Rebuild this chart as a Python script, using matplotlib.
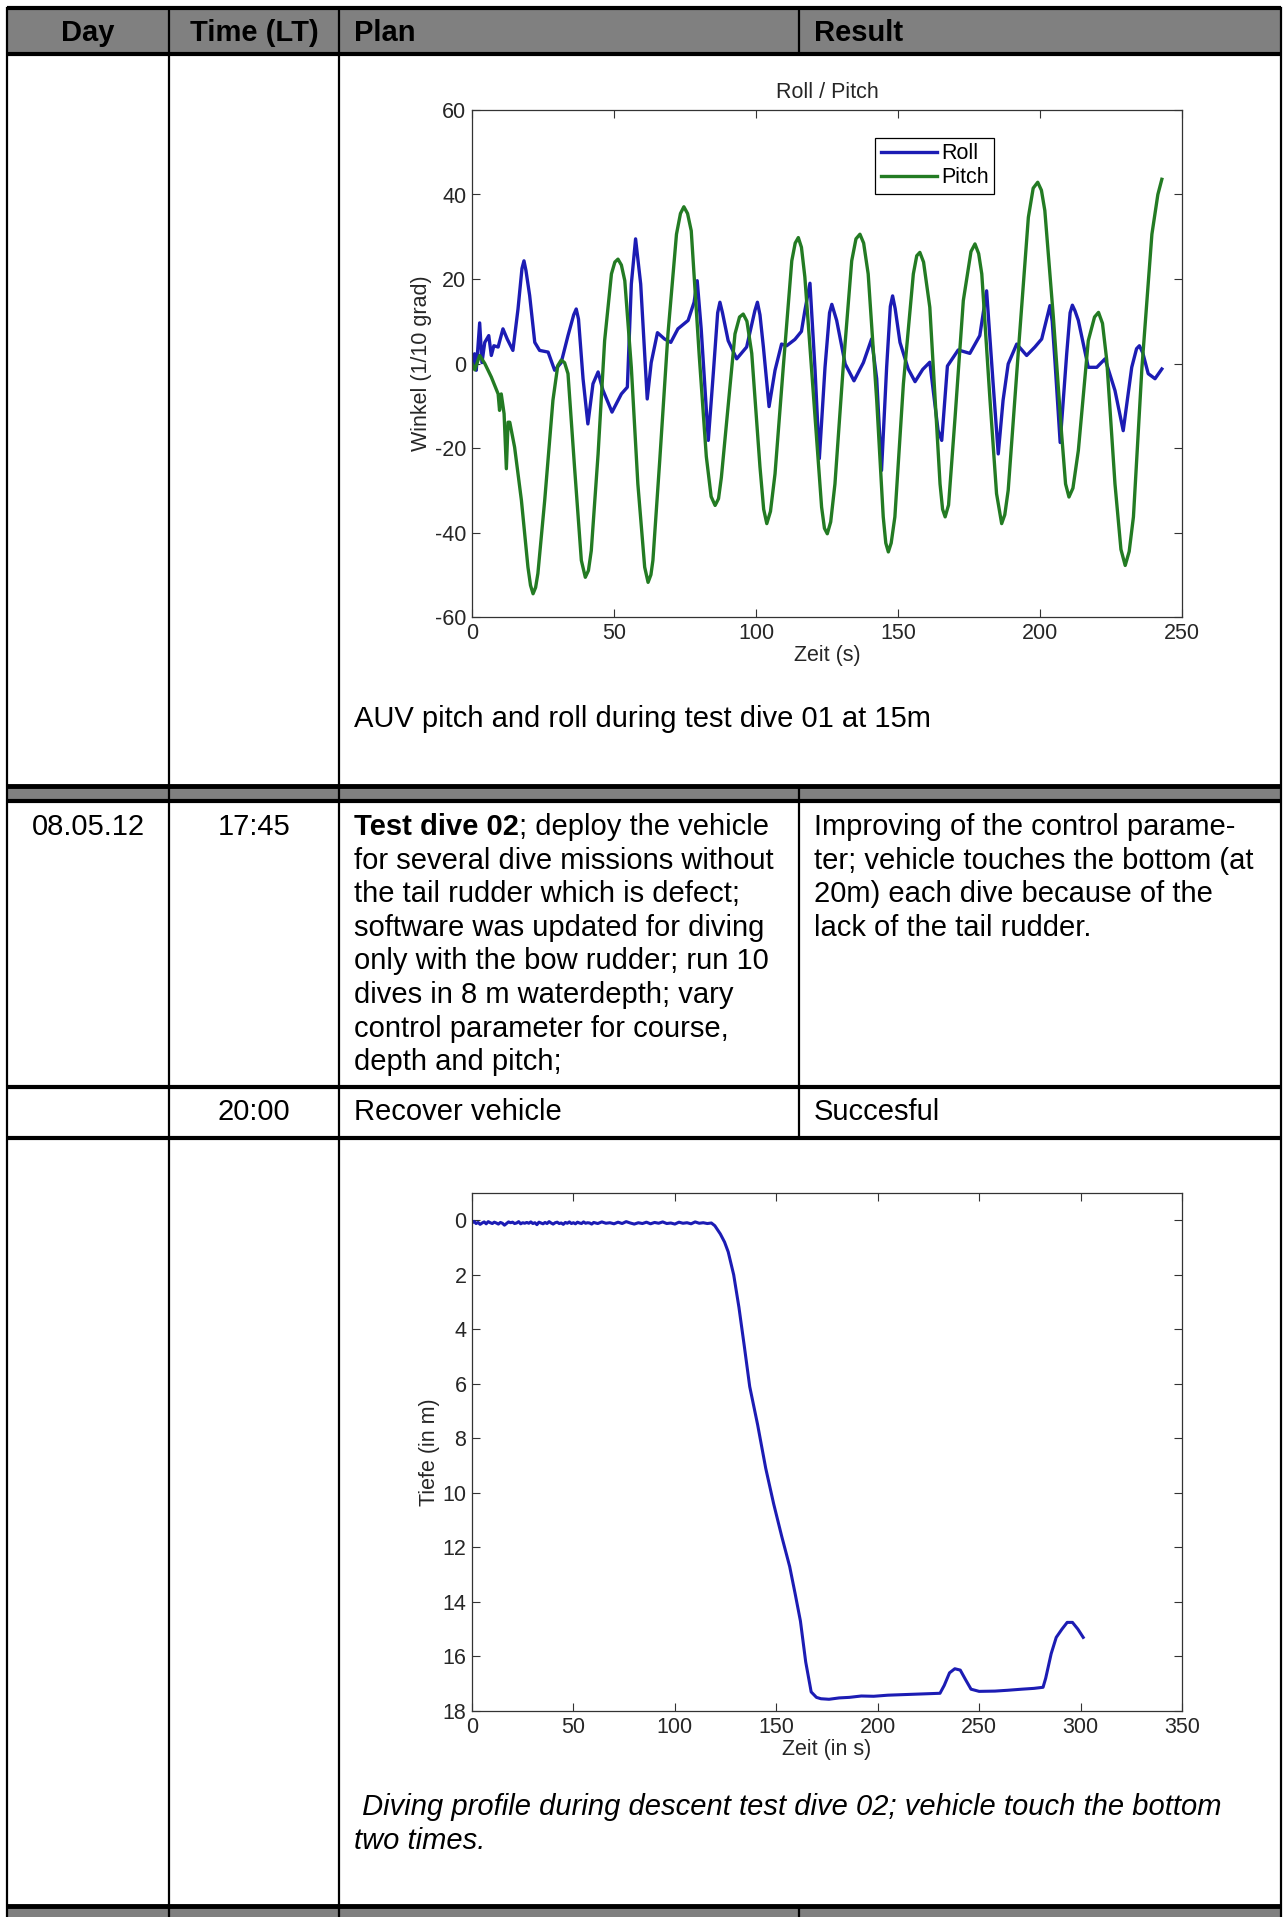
import matplotlib.pyplot as plt
from matplotlib.patches import Rectangle

plt.rcParams["font.family"] = ["Liberation Sans", "DejaVu Sans"]
plt.rcParams["axes.unicode_minus"] = False

W, H = 1284, 1917

# ---- table content ----
header = ["Day", "Time (LT)", "Plan", "Result"]
caption_1 = "AUV pitch and roll during test dive 01 at 15m"
row2_day = "08.05.12"
row2_time = "17:45"
row2_plan_bold = "Test dive 02"
row2_plan = [
    "; deploy the vehicle",
    "for several dive missions without",
    "the tail rudder which is defect;",
    "software was updated for diving",
    "only with the bow rudder; run 10",
    "dives in 8 m waterdepth; vary",
    "control parameter for course,",
    "depth and pitch;",
]
row2_result = [
    "Improving of the control parame-",
    "ter; vehicle touches the bottom (at",
    "20m) each dive because of the",
    "lack of the tail rudder.",
]
row3_time = "20:00"
row3_plan = "Recover vehicle"
row3_result = "Succesful"
caption_2 = [" Diving profile during descent test dive 02; vehicle touch the bottom",
             "two times."]

# ---- roll / pitch (1/10 grad), (time s, value) ----
roll_pts = [
    (0, -0.9), (0.9, 2.3), (1.5, -1.6), (2.7, 9.6), (3.5, 0.2), (4.5, 5.0), (5.9, 6.6),
    (6.8, 1.9), (7.7, 4.2), (9.2, 3.9), (10.9, 8.2), (12.4, 5.8), (14.4, 3.1),
    (16.2, 12.9), (17.6, 22.5), (18.3, 24.3), (19.0, 22.0), (20.3, 16.1), (22.1, 5.0),
    (23.8, 3.1), (26.8, 2.7), (29.1, -1.6), (31.4, 0.2), (33.8, 6.6), (35.8, 11.5),
    (36.7, 12.9), (37.5, 10.5), (39.1, -3.6), (40.8, -14.3), (42.6, -4.8), (44.4, -2.0),
    (46.1, -6.3), (49.3, -11.5), (52.6, -7.2), (54.7, -5.6), (56.1, 18.8), (57.6, 29.5),
    (59.4, 18.8), (61.7, -8.4), (63.1, 0.2), (65.3, 7.3), (67.8, 5.8), (70.0, 5.0),
    (72.5, 8.2), (76.1, 10.2), (78.2, 14.5), (79.3, 19.6), (80.7, 8.2), (83.2, -18.2),
    (85.0, -2.0), (86.5, 12.0), (87.3, 14.5), (88.2, 12.0), (90.2, 5.4), (93.2, 1.1),
    (96.7, 3.9), (99.6, 12.5), (100.5, 14.5), (101.4, 11.5), (102.6, 3.9), (104.6, -10.2),
    (106.7, -1.6), (109.0, 4.6), (110.8, 4.2), (113.7, 5.7), (116.0, 7.6), (117.2, 12.5),
    (119.0, 19.0), (120.8, -1.6), (122.3, -22.5), (124.3, -0.9), (125.9, 12.0),
    (126.7, 14.0), (128.4, 10.2), (131.4, -0.1), (134.5, -4.1), (137.8, 0.2),
    (140.7, 5.8), (142.5, -3.6), (144.2, -25.3), (146.0, -0.9), (147.3, 13.5),
    (148.1, 16.0), (149.0, 13.0), (150.7, 5.0), (153.6, -1.3), (156.0, -4.3),
    (158.7, -1.4), (161.2, 0.3), (164.1, -15.8), (165.4, -18.2), (167.4, -0.6),
    (171.2, 3.2), (175.3, 2.4), (178.8, 6.6), (181.2, 17.2), (183.5, -4.8),
    (185.3, -21.4), (187.0, -8.7), (188.8, -0.1), (191.8, 4.6), (195.3, 1.9),
    (198.2, 3.9), (200.6, 5.8), (202.7, 11.5), (203.5, 13.7), (204.3, 10.0),
    (205.3, 0.2), (207.1, -18.7), (209.4, 2.3), (210.6, 12.0), (211.4, 13.8),
    (212.3, 12.5), (213.5, 10.2), (217.0, -0.9), (220.0, -0.9), (222.9, 1.1),
    (226.4, -6.4), (229.3, -15.9), (232.3, -0.9), (234.0, 3.5), (235.0, 4.2),
    (236.2, 2.5), (238.1, -2.4), (240.5, -3.6), (242.9, -1.3),
]

pitch_pts = [
    (0, 0), (1.0, -1.5), (2.7, 1.9), (4.5, 0), (6.8, -3.2), (9.2, -7.2), (9.7, -11.1),
    (10.3, -7.2), (11.3, -11.9), (12.1, -24.9), (12.7, -13.9), (13.3, -13.9),
    (15.0, -19.8), (17.4, -32.4), (19.7, -48.2), (20.6, -52.5), (21.5, -54.5),
    (22.4, -53.0), (23.2, -49.7), (25.6, -32.4), (28.5, -8.7), (30.2, -0.5), (31.4, 0.8),
    (32.6, 0.2), (33.8, -2.4), (36.1, -24.5), (38.5, -46.6), (39.9, -50.6), (41.0, -49.0),
    (42.0, -44.3), (44.4, -21.4), (46.7, 5.4), (49.1, 21.2), (50.3, 24.0), (51.4, 24.7),
    (52.6, 23.3), (53.8, 19.6), (56.1, -0.9), (58.4, -28.5), (60.8, -48.2), (62.0, -51.8),
    (63.0, -50.0), (63.7, -46.6), (66.1, -23.0), (69.0, 7.0), (72.0, 30.6), (73.4, 35.5),
    (74.6, 37.1), (75.9, 35.5), (77.2, 31.4), (80.0, 2.0), (82.5, -22.0), (84.2, -31.5),
    (85.6, -33.6), (86.8, -32.0), (87.8, -27.0), (89.7, -13.5), (92.6, 7.0), (94.2, 11.0),
    (95.5, 11.7), (96.8, 10.0), (98.5, 2.4), (101.4, -24.5), (102.7, -34.5),
    (103.8, -37.9), (105.1, -35.0), (106.7, -26.1), (109.6, -0.9), (112.6, 24.3),
    (113.8, 28.5), (114.9, 29.8), (116.0, 27.5), (117.2, 20.5), (120.8, -12.7),
    (123.1, -34.0), (124.1, -39.0), (125.1, -40.3), (126.3, -37.5), (127.8, -28.5),
    (130.7, -0.9), (133.7, 24.3), (135.2, 29.5), (136.6, 30.6), (137.9, 28.5),
    (139.5, 21.2), (142.5, -8.7), (144.8, -36.3), (145.7, -42.5), (146.6, -44.6),
    (147.6, -42.5), (148.9, -36.3), (151.9, -4.8), (155.4, 21.2), (156.6, 25.5),
    (157.7, 26.3), (159.0, 24.0), (161.2, 13.3), (164.8, -28.5), (165.7, -34.5),
    (166.6, -36.3), (167.8, -33.5), (170.1, -12.7), (173.0, 14.9), (175.7, 26.5),
    (177.1, 28.3), (178.4, 26.0), (179.5, 21.2), (182.4, -8.7), (184.7, -30.8),
    (186.5, -37.9), (187.6, -35.8), (188.8, -30.0), (192.4, 3.1), (195.9, 34.6),
    (197.6, 41.5), (199.2, 42.9), (200.5, 41.0), (201.7, 36.2), (204.7, 11.0),
    (207.6, -16.6), (209.0, -28.5), (210.2, -31.6), (211.6, -29.5), (213.5, -20.6),
    (217.0, 5.4), (219.2, 11.0), (220.6, 12.1), (222.0, 9.5), (223.5, 0.8),
    (226.4, -28.5), (228.5, -44.0), (230.0, -47.8), (231.4, -44.5), (232.9, -36.3),
    (235.9, -0.9), (239.4, 30.6), (241.5, 40.0), (242.9, 43.6),
]

# ---- depth profile (m), (time s, depth) ----
depth_pts = [
    (0, 0.10), (1, 0.04), (2, 0.12), (3, 0.08), (4, 0.15), (5, 0.10), (6, 0.06),
    (7, 0.13), (8, 0.05), (9, 0.09), (10, 0.12), (11, 0.07), (12, 0.10), (13, 0.14),
    (14, 0.08), (15, 0.11), (16, 0.18), (17, 0.12), (18, 0.06), (19, 0.09), (20, 0.07),
    (21, 0.12), (22, 0.10), (23, 0.05), (24, 0.13), (25, 0.09), (26, 0.11), (27, 0.08),
    (28, 0.11), (29, 0.06), (30, 0.12), (31, 0.09), (32, 0.16), (33, 0.07), (34, 0.10),
    (35, 0.13), (36, 0.08), (37, 0.12), (38, 0.05), (39, 0.10), (40, 0.14), (41, 0.09),
    (42, 0.07), (43, 0.12), (44, 0.10), (45, 0.15), (46, 0.08), (47, 0.11), (48, 0.06),
    (49, 0.12), (50, 0.09), (51, 0.13), (52, 0.07), (53, 0.10), (54, 0.12), (55, 0.06),
    (56, 0.11), (57, 0.09), (58, 0.10), (59, 0.14), (60, 0.08), (62, 0.12), (64, 0.06),
    (66, 0.11), (68, 0.09), (70, 0.13), (72, 0.07), (74, 0.12), (76, 0.05), (78, 0.10),
    (80, 0.14), (82, 0.09), (84, 0.12), (86, 0.07), (88, 0.13), (90, 0.08), (92, 0.11),
    (94, 0.06), (96, 0.12), (98, 0.10), (100, 0.14), (102, 0.07), (104, 0.11),
    (106, 0.09), (108, 0.13), (110, 0.06), (112, 0.11), (114, 0.09), (116, 0.12),
    (118, 0.10), (119.7, 0.20), (122.4, 0.50), (124.5, 0.80), (126.3, 1.16),
    (129.0, 2.0), (131.6, 3.2), (134.2, 4.6), (136.9, 6.1), (140.8, 7.5), (144.8, 9.1),
    (148.7, 10.4), (152.7, 11.6), (156.6, 12.7), (159.3, 13.7), (161.9, 14.7),
    (164.5, 16.2), (167.2, 17.3), (169.8, 17.5), (172, 17.55), (176, 17.57),
    (181, 17.52), (186, 17.50), (191.9, 17.45), (198, 17.46), (205, 17.42), (212, 17.40),
    (218, 17.38), (225, 17.36), (230.7, 17.35), (232.8, 17.06), (235.4, 16.6),
    (238, 16.45), (240.7, 16.5), (243.3, 16.85), (246, 17.2), (250, 17.28),
    (257.8, 17.27), (264, 17.24), (271, 17.20), (277, 17.17), (281.5, 17.13),
    (282.8, 16.8), (285.5, 15.9), (288, 15.3), (290.8, 15.0), (293.4, 14.75),
    (296, 14.75), (298.7, 15.0), (301.3, 15.3),
]

roll_t, roll_v = zip(*roll_pts)
pitch_t, pitch_v = zip(*pitch_pts)
depth_t, depth_v = zip(*depth_pts)

ROLL_C = "#1c1cb4"
PITCH_C = "#237b23"
TXT_C = "#262626"
CFS = 15.5


def frac(x0, y0, x1, y1):
    return [x0 / W, 1 - y1 / H, (x1 - x0) / W, (y1 - y0) / H]


def style_axes(ax):
    ax.tick_params(direction="in", length=6, width=0.8, top=True, right=True,
                   labelsize=CFS, labelcolor=TXT_C, colors="#333333", pad=4)
    for s in ax.spines.values():
        s.set_linewidth(0.9)
        s.set_color("#333333")


fig = plt.figure(figsize=(W / 100, H / 100), dpi=100)

# table drawn in pixel coordinates
tab = fig.add_axes([0, 0, 1, 1])
tab.set_xlim(0, W)
tab.set_ylim(H, 0)
tab.axis("off")

xl, c1, c2, c3, xr = 7, 169, 339, 799, 1281
gray = "#808080"
tab.add_patch(Rectangle((xl, 8), xr - xl, 46, fc=gray, ec="none"))
tab.add_patch(Rectangle((xl, 787), xr - xl, 13, fc=gray, ec="none"))
tab.add_patch(Rectangle((xl, 1907), xr - xl, 10, fc=gray, ec="none"))

for y, lw in [(8, 3), (54, 3), (786, 3.5), (801, 3), (1087, 3), (1138, 3), (1906, 3.5)]:
    tab.plot([xl, xr], [y, y], color="black", lw=lw, solid_capstyle="butt")
for x in [xl, c1, c2, xr]:
    tab.plot([x, x], [8, 1917], color="black", lw=1.6)
for y0, y1 in [(8, 54), (786, 1138), (1906, 1917)]:
    tab.plot([c3, c3], [y0, y1], color="black", lw=1.6)

fs = 21
tab.text((xl + c1) / 2, 33, header[0], ha="center", va="center", fontsize=fs, fontweight="bold")
tab.text((c1 + c2) / 2, 33, header[1], ha="center", va="center", fontsize=fs, fontweight="bold")
tab.text(354, 33, header[2], ha="left", va="center", fontsize=fs, fontweight="bold")
tab.text(814, 33, header[3], ha="left", va="center", fontsize=fs, fontweight="bold")

tab.text(354, 719, caption_1, ha="left", va="center", fontsize=fs)

line_h = 33.6
y0 = 827
tab.text((xl + c1) / 2, y0, row2_day, ha="center", va="center", fontsize=fs)
tab.text((c1 + c2) / 2, y0, row2_time, ha="center", va="center", fontsize=fs)
tb = tab.text(354, y0, row2_plan_bold, ha="left", va="center", fontsize=fs, fontweight="bold")
tab.annotate(row2_plan[0], xy=(1, 0), xycoords=tb, ha="left", va="bottom", fontsize=fs)
for i, line in enumerate(row2_plan[1:], start=1):
    tab.text(354, y0 + i * line_h, line, ha="left", va="center", fontsize=fs)
for i, line in enumerate(row2_result):
    tab.text(814, y0 + i * line_h, line, ha="left", va="center", fontsize=fs)

tab.text((c1 + c2) / 2, 1112, row3_time, ha="center", va="center", fontsize=fs)
tab.text(354, 1112, row3_plan, ha="left", va="center", fontsize=fs)
tab.text(814, 1112, row3_result, ha="left", va="center", fontsize=fs)

for i, line in enumerate(caption_2):
    tab.text(354, 1807 + i * line_h, line, ha="left", va="center", fontsize=fs, style="italic")

# chart 1: roll / pitch
ax1 = fig.add_axes(frac(472, 110, 1182, 617))
ax1.plot(roll_t, roll_v, color=ROLL_C, lw=2.4, label="Roll")
ax1.plot(pitch_t, pitch_v, color=PITCH_C, lw=2.4, label="Pitch")
ax1.set_xlim(0, 250)
ax1.set_ylim(-60, 60)
ax1.set_xticks(range(0, 251, 50))
ax1.set_yticks(range(-60, 61, 20))
ax1.set_title("Roll / Pitch", fontsize=CFS, color=TXT_C, pad=9)
ax1.set_xlabel("Zeit (s)", fontsize=CFS, color=TXT_C, labelpad=1)
ax1.set_ylabel("Winkel (1/10 grad)", fontsize=CFS, color=TXT_C, labelpad=2)
style_axes(ax1)
leg = ax1.legend(loc="upper right", bbox_to_anchor=(0.735, 0.945), fontsize=CFS,
                 fancybox=False, edgecolor="black", framealpha=1, handlelength=2.6,
                 handletextpad=0.2, borderpad=0.25, labelspacing=0.15, borderaxespad=0)
leg.get_frame().set_linewidth(0.9)

# chart 2: depth profile
ax2 = fig.add_axes(frac(472, 1193, 1182, 1711))
ax2.plot(depth_t, depth_v, color=ROLL_C, lw=2.2)
ax2.set_xlim(0, 350)
ax2.set_ylim(18, -1)
ax2.set_xticks(range(0, 351, 50))
ax2.set_yticks(range(0, 19, 2))
ax2.set_xlabel("Zeit (in s)", fontsize=CFS, color=TXT_C, labelpad=1)
ax2.set_ylabel("Tiefe (in m)", fontsize=CFS, color=TXT_C, labelpad=2)
style_axes(ax2)

fig.savefig("out.png", dpi=100)
